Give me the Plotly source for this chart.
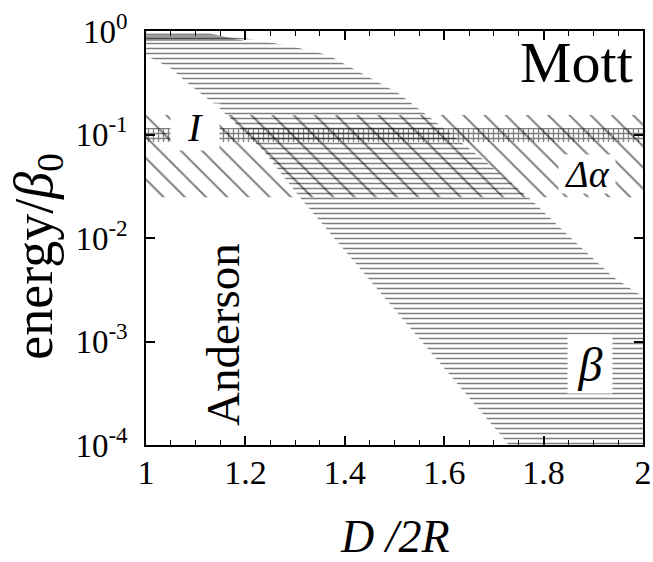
import plotly.graph_objects as go

# ---------------- data ----------------
# beta band (horizontal-hatched region): left and right boundaries, top -> bottom
beta_left_x = [1.0, 1.0, 1.014, 1.052, 1.074, 1.109, 1.143, 1.235, 1.314, 1.722, 1.73]
beta_left_E = [0.94, 0.573, 0.537, 0.43, 0.344, 0.252, 0.188, 0.0708, 0.0233, 1.12e-4, 1e-4]
beta_right_x = [1.13, 1.209, 1.290, 1.350, 1.370, 1.507, 1.565, 1.672, 1.769, 1.853, 1.940, 2.0, 2.0]
beta_right_E = [0.94, 0.838, 0.716, 0.612, 0.573, 0.252, 0.154, 0.0607, 0.0249, 0.0102, 0.0042, 0.0027, 1e-4]

# dense (dark) top part of the beta band
beta_dense_x = [1.0, 1.13, 1.2, 1.0]
beta_dense_E = [0.94, 0.94, 0.80, 0.80]

# Delta-alpha band
dalpha_x = [1.0, 2.0]
dalpha_E = [0.0247, 0.154]

# I band
iband_x = [1.0, 2.0]
iband_E = [0.0847, 0.1156]

x_ticks = [1, 1.2, 1.4, 1.6, 1.8, 2]
x_ticktext = ["1", "1.2", "1.4", "1.6", "1.8", "2"]
y_ticks = [1e-4, 1e-3, 1e-2, 1e-1, 1]
y_ticktext = ["10<sup>-4</sup>", "10<sup>-3</sup>", "10<sup>-2</sup>", "10<sup>-1</sup>", "10<sup>0</sup>"]

FONT = "Liberation Serif"

def rect(xs, es):
    return [xs[0], xs[1], xs[1], xs[0], xs[0]], [es[0], es[0], es[1], es[1], es[0]]

fig = go.Figure()

# Delta alpha band
rx, ry = rect(dalpha_x, dalpha_E)
fig.add_trace(go.Scatter(x=rx, y=ry, mode="none", fill="toself",
                         fillcolor="rgba(0,0,0,0)",
                         fillpattern=dict(shape="\\", size=15, solidity=0.13,
                                          fgcolor="black", bgcolor="rgba(0,0,0,0)",
                                          fillmode="overlay"),
                         hoverinfo="skip", showlegend=False))

# beta band
bx = beta_left_x + beta_right_x[::-1]
by = beta_left_E + beta_right_E[::-1]
fig.add_trace(go.Scatter(x=bx, y=by, mode="none", fill="toself",
                         fillcolor="rgba(0,0,0,0)",
                         fillpattern=dict(shape="-", size=5, solidity=0.3,
                                          fgcolor="black", bgcolor="rgba(0,0,0,0)",
                                          fillmode="overlay"),
                         hoverinfo="skip", showlegend=False))

# dense top of beta band
fig.add_trace(go.Scatter(x=beta_dense_x + beta_dense_x[:1], y=beta_dense_E + beta_dense_E[:1],
                         mode="none", fill="toself",
                         fillcolor="rgba(0,0,0,0)",
                         fillpattern=dict(shape="-", size=2, solidity=0.7,
                                          fgcolor="black", bgcolor="rgba(0,0,0,0)",
                                          fillmode="overlay"),
                         hoverinfo="skip", showlegend=False))

# I band
rx, ry = rect(iband_x, iband_E)
fig.add_trace(go.Scatter(x=rx, y=ry, mode="none", fill="toself",
                         fillcolor="rgba(0,0,0,0)",
                         fillpattern=dict(shape="+", size=5, solidity=0.45,
                                          fgcolor="black", bgcolor="rgba(0,0,0,0)",
                                          fillmode="overlay"),
                         hoverinfo="skip", showlegend=False))

annotations = [
    dict(x=1.867, y=-0.30, xref="x", yref="y", text="Mott", showarrow=False,
         font=dict(family=FONT, size=58, color="black")),
    dict(x=1.155, y=-2.937, xref="x", yref="y", text="Anderson", showarrow=False,
         textangle=-90, font=dict(family=FONT, size=47, color="black")),
    dict(x=1.098, y=-0.93, xref="x", yref="y", text="<i>I</i>", showarrow=False,
         bgcolor="white", width=46, height=44,
         font=dict(family=FONT, size=40, color="black")),
    dict(x=1.887, y=-1.38, xref="x", yref="y", text="<i>Δα</i>", showarrow=False,
         bgcolor="white", width=54, height=36,
         font=dict(family=FONT, size=38, color="black")),
    dict(x=1.893, y=-3.22, xref="x", yref="y", text="<i>β</i>", showarrow=False,
         bgcolor="white", width=42, height=56,
         font=dict(family=FONT, size=48, color="black")),
    dict(x=0.5, y=-0.222, xref="paper", yref="paper", text="<i>D /2R</i>", showarrow=False,
         xanchor="center", yanchor="middle",
         font=dict(family=FONT, size=46, color="black")),
    dict(x=-0.219, y=0.455, xref="paper", yref="paper", text="energy/<i>β</i><sub>0</sub>",
         showarrow=False, textangle=-90, xanchor="center", yanchor="middle",
         font=dict(family=FONT, size=54, color="black")),
]

fig.update_layout(
    template="none",
    width=653, height=562,
    margin=dict(l=146, r=10, t=31, b=117, autoexpand=False),
    paper_bgcolor="white", plot_bgcolor="white",
    showlegend=False,
    annotations=annotations,
    font=dict(family=FONT, color="black"),
    xaxis=dict(range=[1, 2], tickvals=x_ticks, ticktext=x_ticktext, automargin=False,
               ticks="inside", ticklen=9, tickwidth=1.5, tickcolor="black",
               minor=dict(dtick=0.05, ticks="inside", ticklen=5, tickwidth=1, tickcolor="black",
                          showgrid=False),
               showline=True, linecolor="black", linewidth=1.5, mirror="ticks",
               showgrid=False, zeroline=False, ticklabelstandoff=-4,
               tickfont=dict(family=FONT, size=34, color="black")),
    yaxis=dict(type="log", range=[-4, 0], tickvals=y_ticks, ticktext=y_ticktext, automargin=False,
               ticks="inside", ticklen=9, tickwidth=1.5, tickcolor="black",
               showline=True, linecolor="black", linewidth=1.5, mirror="ticks",
               showgrid=False, zeroline=False, ticklabelstandoff=10,
               tickfont=dict(family=FONT, size=33, color="black")),
)

fig.write_html("out.html", config={"displayModeBar": False},
               post_script="document.body.style.margin='0px';document.body.style.overflow='hidden';")
